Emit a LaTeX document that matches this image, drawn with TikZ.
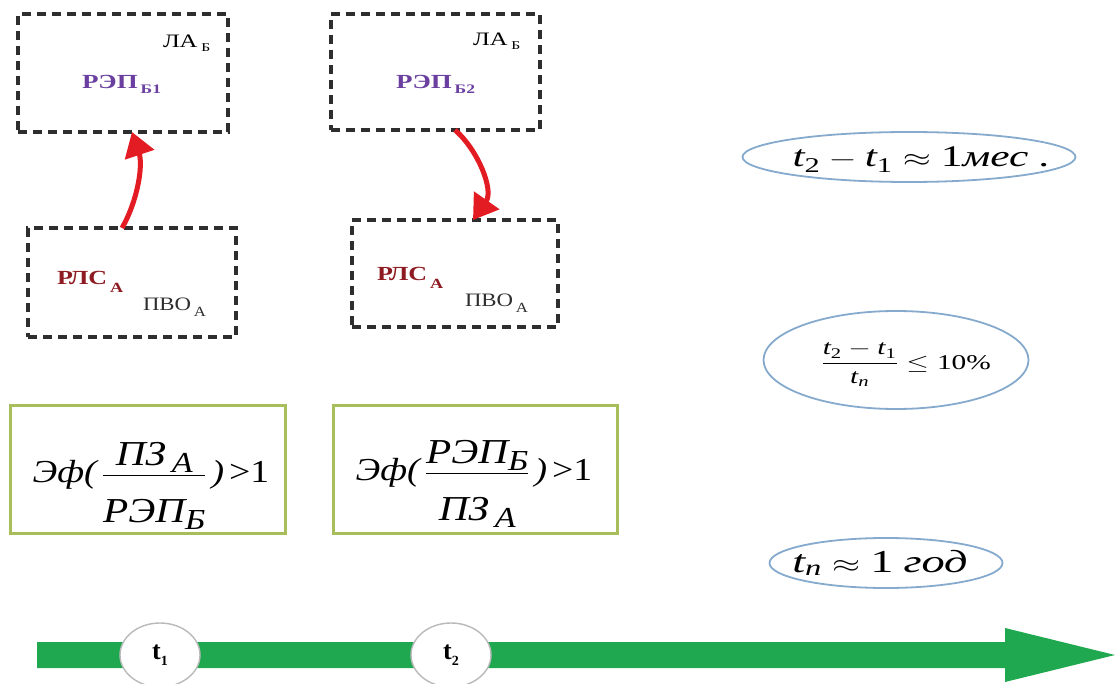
\documentclass[tikz,border=0pt]{standalone}
\usepackage{amsmath}
\usepackage{graphicx}
\usepackage{fontspec}
\setmainfont{Liberation Serif}
\usetikzlibrary{arrows.meta,shapes.geometric}
\definecolor{dashgray}{HTML}{2E2E2E}
\definecolor{repcol}{HTML}{6A3FA0}
\definecolor{rlscol}{HTML}{8E1B22}
\definecolor{arrred}{HTML}{E31B23}
\definecolor{olivebox}{HTML}{A7BE5A}
\definecolor{ellblue}{HTML}{86AACD}
\definecolor{axisgreen}{HTML}{1FA84F}
\newcommand{\hs}[2]{\scalebox{#1}[1]{#2}}
\newcommand{\sz}[1]{\fontsize{#1}{#1}\selectfont}
\newcommand{\fr}[1]{\text{\sz{35}\itshape #1}}
\newcommand{\fs}[1]{\raisebox{-7pt}{\sz{29}\itshape #1}}
\tikzset{
  dbox/.style={draw=dashgray, line width=3.2pt, dash pattern=on 9pt off 6pt, inner sep=0pt, outer sep=0pt},
  gbox/.style={draw=olivebox, line width=3pt, inner sep=0pt, outer sep=0pt},
  ell/.style={draw=ellblue, line width=1.8pt, ellipse, inner sep=0pt, outer sep=0pt},
  txt/.style={inner sep=0pt, outer sep=0pt},
  redarr/.style={draw=arrred, line width=5pt, -{Triangle[length=24pt,width=30pt]}},
  tlab/.style={ellipse, draw=gray!55, line width=1.4pt, fill=white, minimum width=80pt, minimum height=64pt, inner sep=0pt, font=\sz{26}\bfseries}
}
\begin{document}
\begin{tikzpicture}[x=1pt,y=-1pt]
\useasboundingbox (0,0) rectangle (1115,684);
% dashed boxes
\node[dbox, minimum width=210pt, minimum height=118pt] (b1) at (123,73) {};
\node[dbox, minimum width=209pt, minimum height=116pt] (b2) at (435.5,72) {};
\node[dbox, minimum width=208pt, minimum height=109pt] (b3) at (132,282.5) {};
\node[dbox, minimum width=206pt, minimum height=107pt] (b4) at (455,273.5) {};
% texts in boxes
\node[txt, anchor=base west] (la1) at (163,48) {\hs{1.3}{\sz{19}ЛА\raisebox{-4pt}{\sz{12} Б}}};
\node[txt, anchor=base west, text=repcol, font=\bfseries] (rep1) at (82,89) {\hs{1.35}{\sz{20}РЭП\raisebox{-5pt}{\sz{13}\,Б1}}};
\node[txt, anchor=base west] (la2) at (473,46) {\hs{1.3}{\sz{19}ЛА\raisebox{-4pt}{\sz{12} Б}}};
\node[txt, anchor=base west, text=repcol, font=\bfseries] (rep2) at (396,89) {\hs{1.35}{\sz{20}РЭП\raisebox{-5pt}{\sz{13}\,Б2}}};
\node[txt, anchor=base west, text=rlscol, font=\bfseries] (rls1) at (57,285) {\hs{1.3}{\sz{20}РЛС\raisebox{-7pt}{\sz{14}\,А}}};
\node[txt, anchor=base west, text=dashgray] (pvo1) at (143,310) {\hs{1.2}{\sz{19}ПВО\raisebox{-6pt}{\sz{14}\,А}}};
\node[txt, anchor=base west, text=rlscol, font=\bfseries] (rls2) at (377,281) {\hs{1.3}{\sz{20}РЛС\raisebox{-7pt}{\sz{14}\,А}}};
\node[txt, anchor=base west, text=dashgray] (pvo2) at (465,306) {\hs{1.2}{\sz{19}ПВО\raisebox{-6pt}{\sz{14}\,А}}};
% red arrows
\draw[redarr] ([xshift=-10pt]b3.north) .. controls (138,200) and (143,165) .. ([xshift=9pt]b1.south);
\draw[redarr] ([xshift=19.5pt]b2.south) .. controls (478,150) and (494,190) .. ([xshift=18pt]b4.north);
% green formula boxes
\node[gbox, minimum width=275pt, minimum height=128pt] (g1) at (147.5,469) {};
\node[txt, anchor=base] (f1) at (151,482)
  {\hs{1.18}{\sz{32}$\textit{Эф(}\,\dfrac{\fr{ПЗ}\fs{\,А}}{\rule{0pt}{43pt}\fr{РЭП}\fs{Б}}\,\textit{)}\,\text{>1}$}};
\node[gbox, minimum width=284pt, minimum height=128pt] (g2) at (475,469) {};
\node[txt, anchor=base] (f2) at (474,480)
  {\hs{1.18}{\sz{32}$\textit{Эф(}\,\dfrac{\fr{РЭП}\fs{Б}}{\rule{0pt}{43pt}\fr{ПЗ}\fs{\,А}}\,\textit{)}\,\text{>1}$}};
% ellipses
\node[ell, minimum width=333pt, minimum height=50pt] (e1) at (909,157) {};
\node[txt, anchor=base] (t1) at (921,167)
  {\hs{1.45}{\sz{30}$\textit{t}_{\text{2}}-\textit{t}_{\text{1}}\approx\text{1}\textit{мес}\;\text{.}$}};
\node[ell, minimum width=265pt, minimum height=98pt] (e2) at (896,360) {};
\node[txt, anchor=base] (t2) at (906,369)
  {\hs{1.4}{\sz{21}$\dfrac{\textit{t}_{\text{2}}-\textit{t}_{\text{1}}}{\textit{t}_{\textit{п}}}\le\text{10\%}$}};
\node[ell, minimum width=233pt, minimum height=50pt] (e3) at (886,563) {};
\node[txt, anchor=base] (t3) at (880,572)
  {\hs{1.45}{\sz{32}$\textit{t}_{\textit{п}}\approx\text{1}\;\textit{год}$}};
% time axis
\coordinate (a0) at (37,655);
\coordinate (tip) at (1115,655);
\fill[axisgreen] (37,642) -- (1005,642) -- (1005,628) -- (tip) -- (1005,682) -- (1005,668) -- (37,668) -- cycle;
\node[tlab] (n1) at (160,655) {t\raisebox{-6pt}{\sz{14}1}};
\node[tlab] (n2) at (451,655) {t\raisebox{-6pt}{\sz{14}2}};
\end{tikzpicture}
\end{document}
